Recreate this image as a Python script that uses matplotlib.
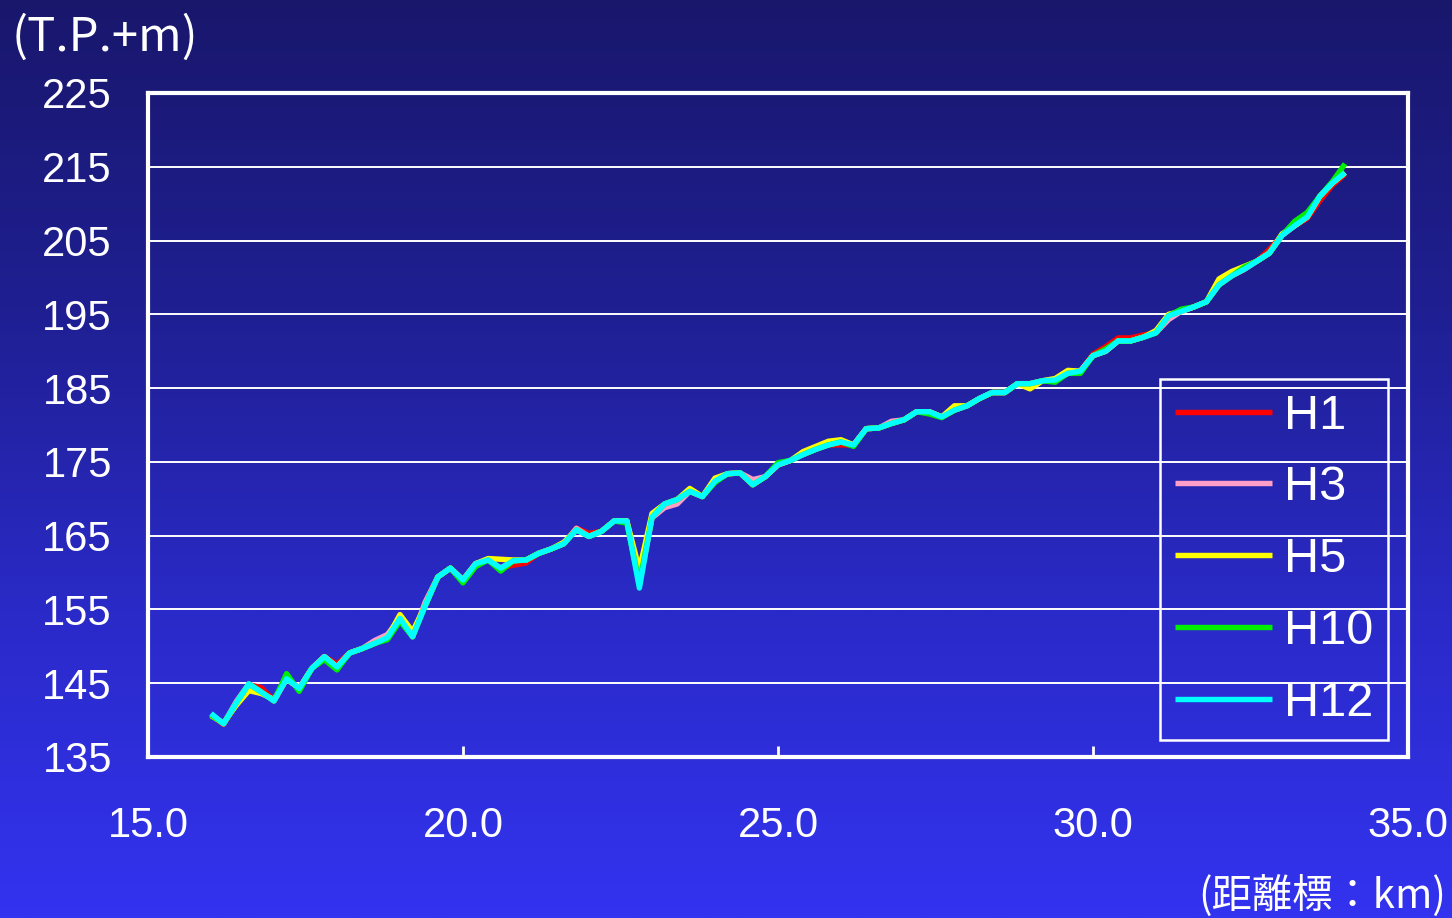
import numpy as np
import matplotlib
matplotlib.use("Agg")
import matplotlib.pyplot as plt
from matplotlib.colors import LinearSegmentedColormap

# ---------------- data ----------------
km = [16.0, 16.2, 16.4, 16.6, 16.8, 17.0, 17.2, 17.4, 17.6, 17.8,
      18.0, 18.2, 18.4, 18.6, 18.8, 19.0, 19.2, 19.4, 19.6, 19.8,
      20.0, 20.2, 20.4, 20.6, 20.8, 21.0, 21.2, 21.4, 21.6, 21.8,
      22.0, 22.2, 22.4, 22.6, 22.8, 23.0, 23.2, 23.4, 23.6, 23.8,
      24.0, 24.2, 24.4, 24.6, 24.8, 25.0, 25.2, 25.4, 25.6, 25.8,
      26.0, 26.2, 26.4, 26.6, 26.8, 27.0, 27.2, 27.4, 27.6, 27.8,
      28.0, 28.2, 28.4, 28.6, 28.8, 29.0, 29.2, 29.4, 29.6, 29.8,
      30.0, 30.2, 30.4, 30.6, 30.8, 31.0, 31.2, 31.4, 31.6, 31.8,
      32.0, 32.2, 32.4, 32.6, 32.8, 33.0, 33.2, 33.4, 33.6, 33.8,
      34.0]

H1 = [140.7, 139.4, 142.2, 144.8, 144.4, 142.6, 145.6, 144.3, 147.0, 148.6,
      147.6, 149.1, 149.7, 150.6, 151.4, 153.8, 151.3, 155.8, 159.4, 160.6,
      159.0, 161.2, 161.7, 160.6, 161.0, 161.3, 162.6, 163.2, 163.9, 166.0,
      165.3, 165.6, 167.0, 167.0, 158.5, 167.5, 169.3, 169.9, 171.0, 170.3,
      172.4, 173.4, 173.5, 171.9, 173.0, 174.6, 175.2, 176.0, 176.7, 177.3,
      177.3, 177.3, 179.5, 179.6, 180.2, 180.7, 181.8, 181.8, 181.1, 182.0,
      182.6, 183.6, 184.4, 184.4, 185.6, 185.6, 186.0, 186.1, 187.0, 187.3,
      189.6, 190.6, 191.8, 191.8, 192.2, 192.5, 194.8, 195.4, 196.0, 196.7,
      199.0, 200.2, 201.1, 202.2, 203.8, 205.7, 207.0, 208.0, 210.4, 212.5,
      214.0]

H3 = [140.8, 139.5, 142.5, 144.9, 143.8, 142.6, 145.6, 144.3, 147.0, 148.6,
      147.2, 149.1, 149.7, 150.8, 151.6, 153.8, 151.3, 156.0, 159.4, 160.6,
      159.0, 161.2, 161.7, 160.6, 161.6, 161.7, 162.6, 163.2, 163.9, 166.0,
      164.9, 165.6, 167.0, 167.0, 158.5, 167.4, 168.8, 169.3, 171.0, 170.3,
      172.4, 173.4, 173.5, 172.6, 173.0, 174.6, 175.2, 176.0, 176.7, 177.3,
      177.7, 177.3, 179.5, 179.6, 180.5, 180.7, 181.8, 181.8, 181.1, 182.0,
      182.6, 183.6, 184.4, 184.4, 185.6, 185.6, 186.0, 186.1, 187.0, 187.3,
      189.4, 190.0, 191.4, 191.4, 191.9, 192.5, 194.3, 195.4, 196.0, 196.7,
      199.0, 200.2, 201.1, 202.2, 203.3, 205.7, 207.0, 208.2, 211.0, 212.8,
      214.2]

H5 = [140.6, 139.6, 142.0, 144.0, 143.6, 142.8, 145.6, 144.3, 147.0, 148.6,
      147.2, 149.1, 149.7, 150.4, 151.2, 154.3, 152.0, 155.5, 159.4, 160.6,
      159.0, 161.2, 161.9, 161.8, 161.7, 161.7, 162.6, 163.2, 164.1, 165.8,
      164.9, 165.6, 167.0, 167.0, 160.4, 168.0, 169.3, 169.9, 171.4, 170.3,
      172.8, 173.4, 173.5, 171.9, 173.0, 174.6, 175.2, 176.4, 177.1, 177.8,
      178.0, 177.3, 179.5, 179.6, 180.2, 180.7, 181.8, 181.8, 181.1, 182.6,
      182.6, 183.6, 184.4, 184.4, 185.6, 184.9, 186.0, 186.3, 187.4, 187.3,
      189.4, 190.0, 191.4, 191.4, 191.9, 192.8, 195.0, 195.4, 196.0, 196.7,
      199.8, 200.8, 201.5, 202.2, 203.3, 205.9, 207.0, 208.2, 211.0, 212.8,
      214.2]

H10 = [140.7, 139.5, 142.3, 144.9, 143.8, 142.6, 146.3, 143.9, 147.0, 148.2,
       146.8, 149.1, 149.7, 150.4, 150.9, 153.4, 151.3, 155.5, 159.4, 160.6,
       158.6, 160.8, 161.7, 160.2, 161.6, 161.7, 162.6, 163.2, 163.9, 165.8,
       164.9, 165.6, 167.0, 166.7, 158.6, 167.5, 169.3, 169.9, 171.0, 170.3,
       172.2, 173.4, 173.5, 171.9, 173.0, 174.9, 175.2, 176.0, 176.7, 177.3,
       177.7, 177.1, 179.5, 179.6, 180.2, 180.7, 181.8, 181.5, 181.0, 182.0,
       182.6, 183.6, 184.4, 184.4, 185.6, 185.6, 186.0, 185.8, 187.0, 187.0,
       189.4, 190.3, 191.4, 191.4, 191.9, 192.5, 194.8, 195.7, 196.0, 196.7,
       199.0, 200.2, 201.4, 202.2, 203.3, 205.7, 207.6, 208.8, 211.0, 213.0,
       215.4]

H12 = [140.9, 139.5, 142.3, 144.9, 143.8, 142.6, 145.6, 144.3, 147.0, 148.6,
       147.2, 149.1, 149.7, 150.4, 151.2, 153.8, 151.3, 155.5, 159.4, 160.6,
       159.0, 161.2, 161.7, 160.6, 161.6, 161.7, 162.6, 163.2, 163.9, 165.8,
       164.9, 165.6, 167.0, 167.0, 157.9, 167.5, 169.3, 169.9, 171.0, 170.3,
       172.4, 173.4, 173.5, 171.9, 173.0, 174.6, 175.2, 176.0, 176.7, 177.3,
       177.7, 177.3, 179.5, 179.6, 180.2, 180.7, 181.8, 181.8, 181.1, 182.0,
       182.6, 183.6, 184.4, 184.4, 185.6, 185.6, 186.0, 186.1, 187.0, 187.3,
       189.4, 190.0, 191.4, 191.4, 191.9, 192.5, 194.8, 195.4, 196.0, 196.7,
       199.0, 200.2, 201.1, 202.2, 203.3, 205.7, 207.0, 208.2, 211.0, 212.8,
       214.2]

series_names = ["H1", "H3", "H5", "H10", "H12"]
series_values = [H1, H3, H5, H10, H12]
series_colors = ["#ff0000", "#ff9ec8", "#ffff00", "#00ee00", "#00ffff"]

x_ticks = [15.0, 20.0, 25.0, 30.0, 35.0]
x_ticklabels = ["15.0", "20.0", "25.0", "30.0", "35.0"]
y_ticks = [135, 145, 155, 165, 175, 185, 195, 205, 215, 225]
y_unit = "(T.P.+m)"
x_unit = "(距離標：km)"

# ---------------- figure ----------------
W, H = 1452, 918
fig = plt.figure(figsize=(W / 100, H / 100), dpi=100)

# background gradient
bg = fig.add_axes([0, 0, 1, 1], zorder=-10)
cmap = LinearSegmentedColormap.from_list(
    "bg", ["#19176c", "#1f1f92", "#2a2ac8", "#3333f0"])
grad = np.linspace(0, 1, 512).reshape(-1, 1)
bg.imshow(grad, aspect="auto", cmap=cmap, extent=[0, 1, 0, 1], origin="upper")
bg.axis("off")

ax = fig.add_axes([148 / W, 1 - 757 / H, (1408 - 148) / W, (757 - 93) / H])
ax.set_facecolor("none")

for name, vals, col in zip(series_names, series_values, series_colors):
    ax.plot(km, vals, color=col, lw=3.9, label=name,
            solid_joinstyle="round", solid_capstyle="butt")

ax.set_xlim(15, 35)
ax.set_ylim(135, 225)
ax.set_xticks(x_ticks)
ax.set_xticklabels(x_ticklabels)
ax.set_yticks(y_ticks)

ax.grid(axis="y", color="white", lw=1.4)
ax.set_axisbelow(True)
for s in ax.spines.values():
    s.set_color("white")
    s.set_linewidth(3)

num_font = "Liberation Sans"
ax.tick_params(axis="x", direction="in", length=8, width=2, color="white",
               labelcolor="white", labelsize=30, pad=35)
ax.tick_params(axis="y", length=0, labelcolor="white", labelsize=30, pad=26)
for lab in ax.get_xticklabels() + ax.get_yticklabels():
    lab.set_fontfamily(num_font)

fig.text(12 / W, 1 - 38 / H, y_unit, color="white", fontsize=34,
         family=["Noto Sans CJK JP", "DejaVu Sans"], ha="left", va="center")
fig.text(1446 / W, 1 - 896 / H, x_unit, color="white", fontsize=29,
         family=["Noto Sans CJK JP", "DejaVu Sans"], ha="right", va="center")

leg = fig.legend(loc="upper left", bbox_to_anchor=(1160 / W, 1 - 379 / H),
                 bbox_transform=fig.transFigure, frameon=True, fancybox=False,
                 framealpha=1,
                 prop={"family": num_font, "size": 35}, handlelength=2.0,
                 handletextpad=0.25, labelspacing=0.55, borderpad=0.3,
                 borderaxespad=0)
leg.get_frame().set_facecolor("none")
leg.get_frame().set_edgecolor("white")
leg.get_frame().set_linewidth(1.8)
for t in leg.get_texts():
    t.set_color("white")

fig.savefig("out.png", dpi=100)
